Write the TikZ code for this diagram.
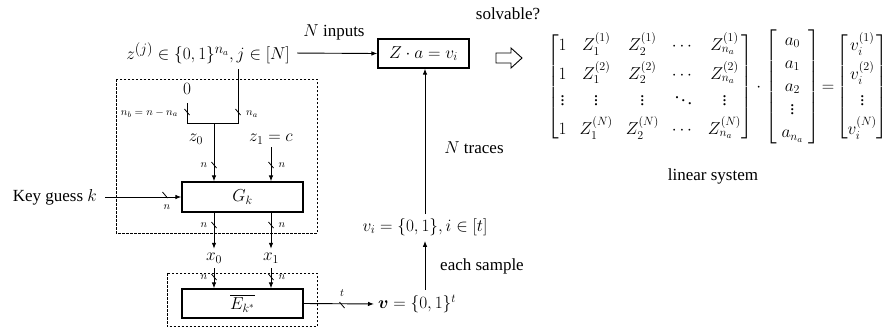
\documentclass[tikz,border=0pt]{standalone}
\usepackage{amsmath}
\usepackage{bm}
\usepackage{fontspec}
\setmainfont{Liberation Serif}
\usetikzlibrary{arrows.meta}
\begin{document}
\begin{tikzpicture}[x=1pt,y=-1pt,
  every node/.style={font=\rmfamily\fontsize{17}{20}\selectfont, inner sep=0pt},
  mth/.style={font=\rmfamily\fontsize{18.5}{22}\selectfont},
  lbl/.style={font=\rmfamily\fontsize{11}{12}\selectfont},
  blk/.style={draw, line width=1.2pt, minimum width=121pt, minimum height=30pt},
  arr/.style={-{Latex[length=6pt,width=4.5pt]}, line width=0.9pt},
  ln/.style={line width=0.9pt},
  dbox/.style={draw, dash pattern=on 2.5pt off 1.5pt, line width=0.8pt},
  bustick/.pic={\draw[line width=0.8pt] (-2.5,-3) -- (2.5,3);}
]
\useasboundingbox (0,0) rectangle (885,327);

% dashed boxes
\draw[dbox] (116,79) rectangle (317,233);
\draw[dbox] (167,273) rectangle (317,326.5);

% top input
\node[anchor=east, font=\rmfamily\fontsize{19}{22}\selectfont] (zin) at (290,53) {$z^{(j)}\in\{0,1\}^{n_a}, j\in[N]$};
\node[blk, mth, minimum width=91pt, minimum height=29pt] (Z) at (423.5,53.5) {$Z\cdot a=v_i$};
\draw[arr, shorten <=7pt] (zin.east) -- (Z.west);
\node (ninp) at (334,32) {$N$ inputs};

% split
\node[mth] (zero) at (187,89) {$0$};
\coordinate (jr) at (238,123);
\coordinate (jl) at (187,123);
\coordinate (jm) at (214,123);
\coordinate (zdrop) at (238,69);
\coordinate (ltop) at (187,103);
\draw[ln] (zdrop) -- (jr) -- (jl) -- (ltop);
\pic at (187,112) {bustick};
\pic at (238,112) {bustick};
\node[lbl, anchor=east] (nb) at (178,113) {$n_b=n-n_a$};
\node[lbl, anchor=west] (na) at (246,114) {$n_a$};
\node[mth] (z0) at (196,139) {$z_0$};
\node[mth] (z1) at (271,139) {$z_1=c$};

% G block
\node[blk, mth] (G) at (242.5,197) {$G_k$};
\draw[arr] (jm) -- (jm |- G.north);
\draw[arr, shorten <=3pt] (z1.south) -- (z1.south |- G.north);
\pic at (214,165) {bustick};
\pic at (271,165) {bustick};
\node[lbl] (n1) at (204,165) {$n$};
\node[lbl] (n2) at (282,165) {$n$};

\node[anchor=east] (key) at (97,197) {Key guess $k$};
\draw[arr, shorten <=8pt] (key.east) -- (G.west);
\pic at (165,195) {bustick};
\node[lbl] (n3) at (167,207) {$n$};

% outputs of G
\node[mth] (x0) at (214,258) {$x_0$};
\node[mth] (x1) at (271,258) {$x_1$};
\draw[arr, shorten >=4pt] (G.south -| x0) -- (x0.north);
\draw[arr, shorten >=4pt] (G.south -| x1) -- (x1.north);
\pic at (214,225) {bustick};
\pic at (271,225) {bustick};
\node[lbl] (n4) at (204,225) {$n$};
\node[lbl] (n5) at (282,225) {$n$};

% E block
\node[blk, mth, minimum height=29pt] (E) at (242.5,303.5) {$\overline{E_{k^*}}$};
\draw[arr, shorten <=5pt] (x0.south) -- (x0.south |- E.north);
\draw[arr, shorten <=5pt] (x1.south) -- (x1.south |- E.north);
\pic at (214,277) {bustick};
\pic at (271,277) {bustick};
\node[lbl] (n6) at (204,277) {$n$};
\node[lbl] (n7) at (282,277) {$n$};

% v
\node[anchor=west] (v) at (378,304) {$\bm{v}=\{0,1\}^t$};
\draw[arr, shorten >=4pt] (E.east) -- (v.west);
\pic at (342,305) {bustick};
\node[lbl] (tl) at (342,293) {$t$};

\node[font=\rmfamily\fontsize{18}{22}\selectfont] (vi) at (425,227) {$v_i=\{0,1\}, i\in[t]$};
\draw[arr, shorten <=5pt, shorten >=5pt] (vi.south |- v.north) -- (vi.south);
\draw[arr, shorten <=4pt] (vi.north) -- (vi.north |- Z.south);
\node (ntr) at (474,148) {$N$ traces};
\node (each) at (482,266) {each sample};

% right side
\node (solv) at (508,14) {solvable?};
\draw[line width=0.9pt, fill=white] (496,53) -- (511,53) -- (511,48) -- (522,58) -- (511,68) -- (511,63) -- (496,63) -- cycle;
\node[anchor=west, font=\rmfamily\fontsize{18}{22}\selectfont] (mat) at (547,87) {$\setlength{\arraycolsep}{6.5pt}\begin{bmatrix}1 & Z_1^{(1)} & Z_2^{(1)} & \cdots & Z_{n_a}^{(1)}\\[4pt] 1 & Z_1^{(2)} & Z_2^{(2)} & \cdots & Z_{n_a}^{(2)}\\[4pt] \vdots & \vdots & \vdots & \ddots & \vdots\\[4pt] 1 & Z_1^{(N)} & Z_2^{(N)} & \cdots & Z_{n_a}^{(N)}\end{bmatrix}\cdot\left[\setlength{\arraycolsep}{5pt}\begin{array}{c}a_0\\[1pt]a_1\\[1pt]a_2\\[1pt]\vdots\\[1pt]a_{n_a}\end{array}\right]\!=\!\begin{bmatrix}v_i^{(1)}\\[4pt]v_i^{(2)}\\[4pt]\vdots\\[4pt]v_i^{(N)}\end{bmatrix}$};
\node (lin) at (713,176) {linear system};
\end{tikzpicture}
\end{document}
